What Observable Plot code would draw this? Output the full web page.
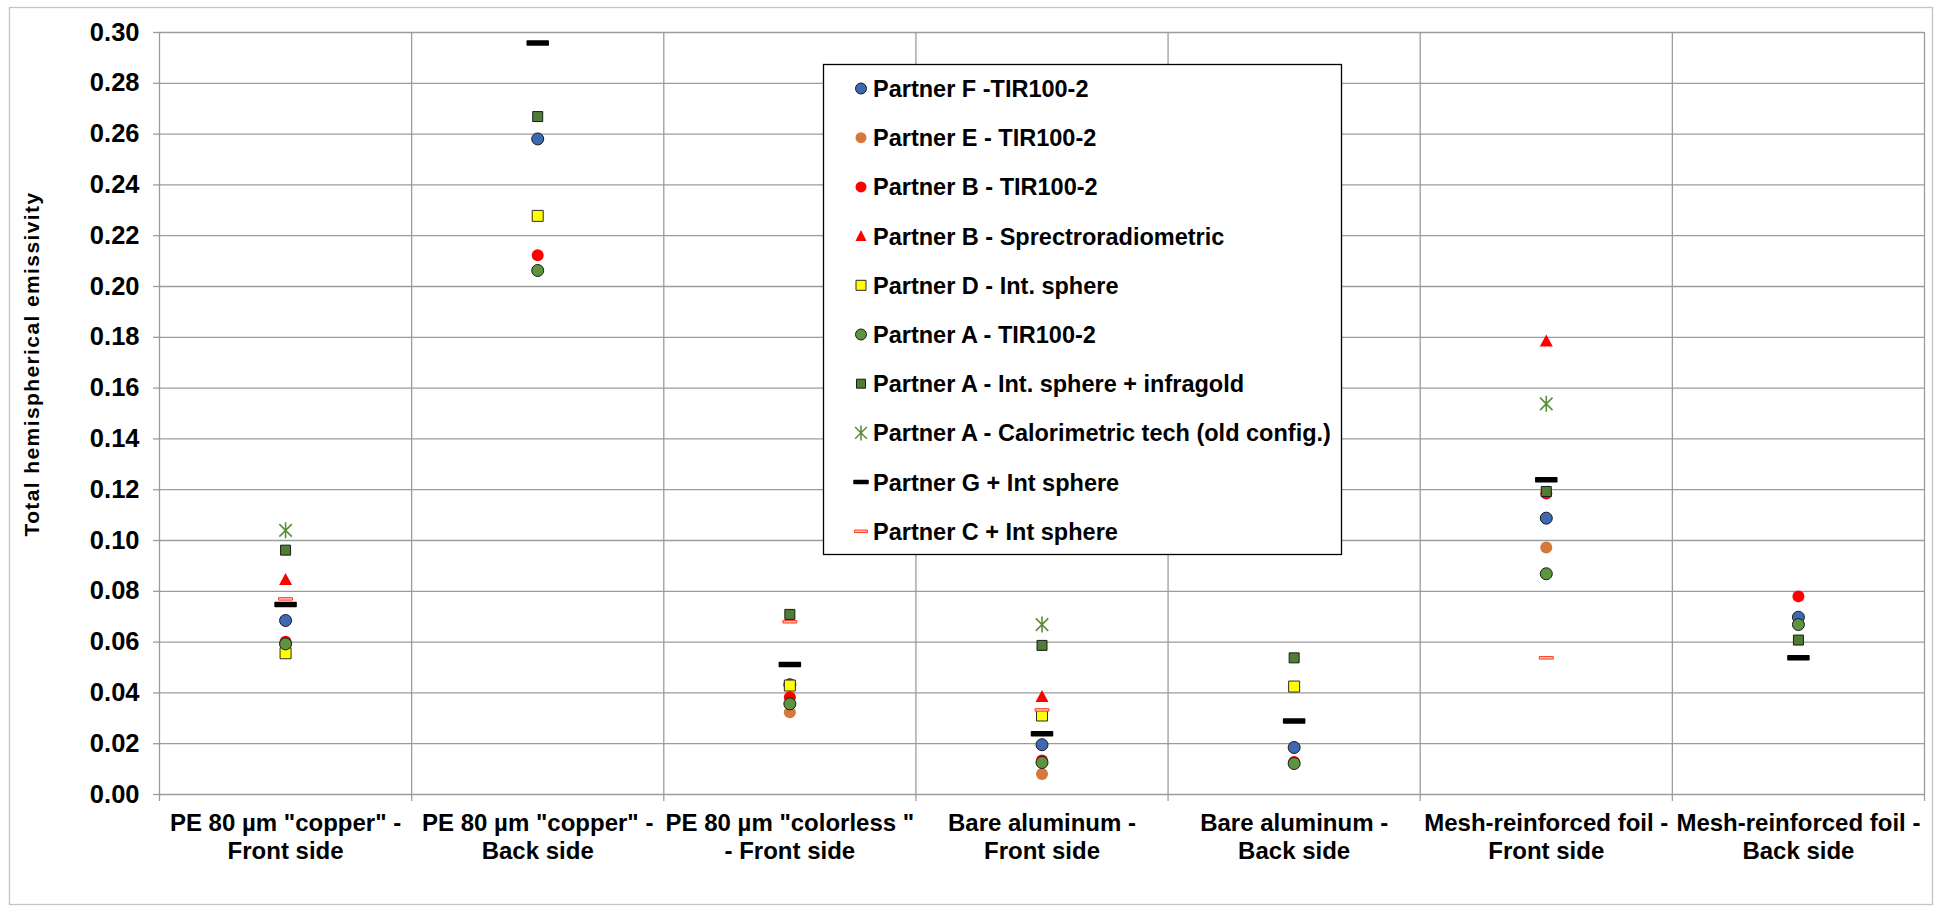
<!DOCTYPE html>
<html><head><meta charset="utf-8">
<script src="https://cdn.jsdelivr.net/npm/d3@7"></script>
<script src="https://cdn.jsdelivr.net/npm/@observablehq/plot@0.6"></script>
<style>
html,body{margin:0;padding:0;background:#fff;}
#chart{position:relative;width:1941px;height:911px;}
</style></head><body><div id="chart"></div>
<script>
// ---- data ----
const categories = [
  'PE 80 µm "copper" -\nFront side',
  'PE 80 µm "copper" -\nBack side',
  'PE 80 µm "colorless "\n- Front side',
  'Bare aluminum -\nFront side',
  'Bare aluminum -\nBack side',
  'Mesh-reinforced foil -\nFront side',
  'Mesh-reinforced foil -\nBack side'
];
const yTicks = [0, 0.02, 0.04, 0.06, 0.08, 0.10, 0.12, 0.14, 0.16, 0.18, 0.20, 0.22, 0.24, 0.26, 0.28, 0.30];
const seriesNames = [
  "Partner F -TIR100-2",
  "Partner E - TIR100-2",
  "Partner B - TIR100-2",
  "Partner B - Sprectroradiometric",
  "Partner D - Int. sphere",
  "Partner A - TIR100-2",
  "Partner A - Int. sphere + infragold",
  "Partner A - Calorimetric tech (old config.)",
  "Partner G + Int sphere",
  "Partner C + Int sphere"
];
const partnerF_TIR   = [0.0685, 0.2581, 0.0432, 0.0196, 0.0185, 0.1088, 0.0698];
const partnerE_TIR   = [null,   null,   0.0324, 0.0081, null,   0.0972, null];
const partnerB_TIR   = [0.0601, 0.2123, 0.0383, 0.0134, 0.0128, 0.1185, 0.0780];
const partnerB_Spec  = [0.0846, null,   null,   0.0386, null,   0.1785, null];
const partnerD_IS    = [0.0556, 0.2278, 0.0429, 0.0311, 0.0425, null,   null];
const partnerA_TIR   = [0.0593, 0.2063, 0.0357, 0.0126, 0.0122, 0.0869, 0.0669];
const partnerA_IS    = [0.0962, 0.2669, 0.0709, 0.0587, 0.0538, 0.1193, 0.0608];
const partnerA_Cal   = [0.1040, null,   null,   0.0669, null,   0.1538, null];
const partnerG_IS    = [0.0748, 0.2959, 0.0512, 0.0239, 0.0289, 0.1239, 0.0538];
const partnerC_IS    = [0.0770, null,   0.0680, 0.0333, null,   0.0538, null];

const seriesValues = [partnerF_TIR, partnerE_TIR, partnerB_TIR, partnerB_Spec, partnerD_IS,
                      partnerA_TIR, partnerA_IS, partnerA_Cal, partnerG_IS, partnerC_IS];

// ---- symbols ----
const sq = s => ({draw(c){const h=s/2;c.moveTo(-h,-h);c.lineTo(h,-h);c.lineTo(h,h);c.lineTo(-h,h);c.closePath();}});
const tri = (w,h) => ({draw(c){c.moveTo(0,-h/2-1);c.lineTo(w/2,h/2);c.lineTo(-w/2,h/2);c.closePath();}});
const star = s => ({draw(c){const h=s/2,k=h*0.78;c.moveTo(-k,-k);c.lineTo(k,k);c.moveTo(k,-k);c.lineTo(-k,k);c.moveTo(0,-h);c.lineTo(0,h);}});
const dash = (w,h) => ({draw(c){c.moveTo(-w/2,-h/2);c.lineTo(w/2,-h/2);c.lineTo(w/2,h/2);c.lineTo(-w/2,h/2);c.closePath();}});
const circ = r => ({draw(c){c.moveTo(r,0);c.arc(0,0,r,0,2*Math.PI);}});

const styles = [
  {symbol: circ(6),    fill: "#3F68B2", stroke: "#1b1b1b", strokeWidth: 1, leg: circ(5.5)},
  {symbol: circ(6),    fill: "#D8773A", stroke: "none",    strokeWidth: 0, leg: circ(5.5)},
  {symbol: circ(6),    fill: "#FF0000", stroke: "none",    strokeWidth: 0, leg: circ(5.5)},
  {symbol: tri(13,11), fill: "#FF0000", stroke: "none",    strokeWidth: 0, leg: tri(11,10)},
  {symbol: sq(11),     fill: "#FFFF00", stroke: "#2a2a2a", strokeWidth: 1, leg: sq(10)},
  {symbol: circ(6),    fill: "#5C9440", stroke: "#1b1b1b", strokeWidth: 1, leg: circ(5.5)},
  {symbol: sq(10),     fill: "#4F7D33", stroke: "#1b1b1b", strokeWidth: 1, leg: sq(9)},
  {symbol: star(16),   fill: "none",    stroke: "#5B8E3C", strokeWidth: 1.6, leg: star(15)},
  {symbol: dash(21,4), fill: "#000",    stroke: "#000",    strokeWidth: 1.5, leg: dash(14,3)},
  {symbol: dash(14,2.5), fill: "#FFC4B8", stroke: "#FF3A1E", strokeWidth: 1, leg: dash(13,2.5)}
];

const rows = [];
seriesValues.forEach((vals, s) => vals.forEach((v, i) => { if (v != null) rows.push({s, x: i + 0.5, y: v}); }));

const bounds = categories.map((_, i) => i).concat([categories.length]);
const centers = categories.map((_, i) => i + 0.5);
const grid = "#9c9c9c";
const FONT = '"Liberation Sans", Arial, sans-serif';

const chart = Plot.plot({
  width: 1941, height: 911,
  marginLeft: 159, marginRight: 17, marginTop: 32, marginBottom: 117,
  x: {domain: [0, categories.length], label: null},
  y: {domain: [0, 0.30], label: null},
  style: {fontFamily: FONT, fontSize: "22px", fontWeight: "bold", color: "#000", background: "#fff"},
  marks: [
    Plot.gridY(yTicks, {stroke: grid, strokeOpacity: 1, strokeWidth: 1.3}),
    Plot.ruleX(bounds, {stroke: grid, strokeWidth: 1.3}),
    Plot.axisY(yTicks, {tickFormat: d3.format(".2f"), tickSize: 6, tickPadding: 14, stroke: grid, strokeWidth: 1.3, fontSize: 25.5, fontWeight: "bold", label: null}),
    Plot.axisX(bounds, {tickSize: 7, tickFormat: () => "", stroke: grid, strokeWidth: 1.3, label: null}),
    Plot.axisX(centers, {tickSize: 0, tickPadding: 17, tickFormat: (d) => categories[Math.floor(d)], lineHeight: 1.15, fontSize: 24, fontWeight: "bold", label: null}),
    ...styles.map((st, s) => Plot.dot(rows.filter(d => d.s === s), {
      x: "x", y: "y", r: 6, symbol: st.symbol, fill: st.fill, stroke: st.stroke, strokeWidth: st.strokeWidth, strokeLinejoin: "round"
    }))
  ]
});
document.getElementById("chart").appendChild(chart);

// ---- decorations: outer border, y title, legend ----
const svg = d3.select(chart);
svg.insert("rect", ":first-child").attr("x", 9.5).attr("y", 7.5).attr("width", 1923).attr("height", 897)
  .attr("fill", "none").attr("stroke", "#c4c4c4").attr("stroke-width", 1.3);
svg.append("text").attr("transform", "translate(32,364) rotate(-90)")
  .attr("text-anchor", "middle").attr("dy", "0.35em")
  .style("font-family", FONT).style("font-size", "21px").style("font-weight", "bold").style("letter-spacing", "1.4px")
  .text("Total hemispherical emissivity");

const lg = svg.append("g");
lg.append("rect").attr("x", 823.5).attr("y", 64.5).attr("width", 518).attr("height", 490)
  .attr("fill", "#fff").attr("stroke", "#000").attr("stroke-width", 1.3);
seriesNames.forEach((name, i) => {
  const y = 88.5 + i * 49.2;
  const st = styles[i];
  lg.append("path").attr("transform", `translate(861,${y})`).attr("d", d3.symbol(st.leg, 64)())
    .attr("fill", st.fill).attr("stroke", st.stroke).attr("stroke-width", st.strokeWidth).attr("stroke-linejoin", "round");
  lg.append("text").attr("x", 873).attr("y", y).attr("dy", "0.36em").attr("text-anchor", "start")
    .style("font-family", FONT).style("font-size", "23.5px").style("font-weight", "bold").text(name);
});
</script>
</body></html>
